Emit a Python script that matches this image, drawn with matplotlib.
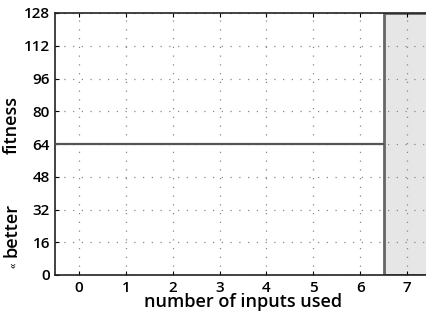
import matplotlib.pyplot as plt
import numpy as np

plt.rcParams["font.family"] = ["Open Sans", "DejaVu Sans"]

inputs = [0, 1, 2, 3, 4, 5, 6]
fitness = [64, 64, 64, 64, 64, 64, 64]
shaded_inputs = [7]
x_ticks = [0, 1, 2, 3, 4, 5, 6, 7]
y_ticks = [0, 16, 32, 48, 64, 80, 96, 112, 128]

fig = plt.figure(figsize=(4.27, 3.2), dpi=100)
ax = fig.add_axes([55.5 / 427, 1 - 275 / 320, 375 / 427, 262 / 320])

# best fitness per input count, drawn as flat steps across each column
xs = np.repeat(np.array(inputs, dtype=float), 2) + np.tile([-0.5, 0.5], len(inputs))
ys = np.repeat(fitness, 2)
ax.plot(xs, ys, color="#555555", lw=1.6, zorder=3, solid_capstyle="butt")

for s in shaded_inputs:
    ax.axvspan(s - 0.5, s + 0.5, facecolor="#e6e6e6", edgecolor="#666666",
               lw=2, zorder=1)

ax.set_xlim(-0.5, 7.5)
ax.set_ylim(0, 128)
ax.set_xticks(x_ticks)
ax.set_yticks(y_ticks)
ax.grid(True, color="#888888", linestyle=(0, (1, 6)), lw=0.9, zorder=2)
ax.tick_params(direction="in", length=3, width=0.8, top=True, right=True,
               labelsize=11, pad=4)
for lab in ax.get_xticklabels() + ax.get_yticklabels():
    lab.set_fontweight("semibold")
for sp in ax.spines.values():
    sp.set_linewidth(1.2)
    sp.set_color("#222222")

ax.set_xlabel("number of inputs used", fontsize=13, fontweight="semibold",
              labelpad=-1)
fig.text(12 / 427, 1 - 125 / 320, "fitness", rotation=90, fontsize=13,
         fontweight="semibold", ha="center", va="center")
fig.text(12 / 427, 1 - 230 / 320, "better", rotation=90, fontsize=13,
         fontweight="semibold", ha="center", va="center")
fig.text(14 / 427, 1 - 265 / 320, "«", rotation=90, fontsize=8,
         ha="center", va="center")

fig.savefig("out.png", dpi=100)
